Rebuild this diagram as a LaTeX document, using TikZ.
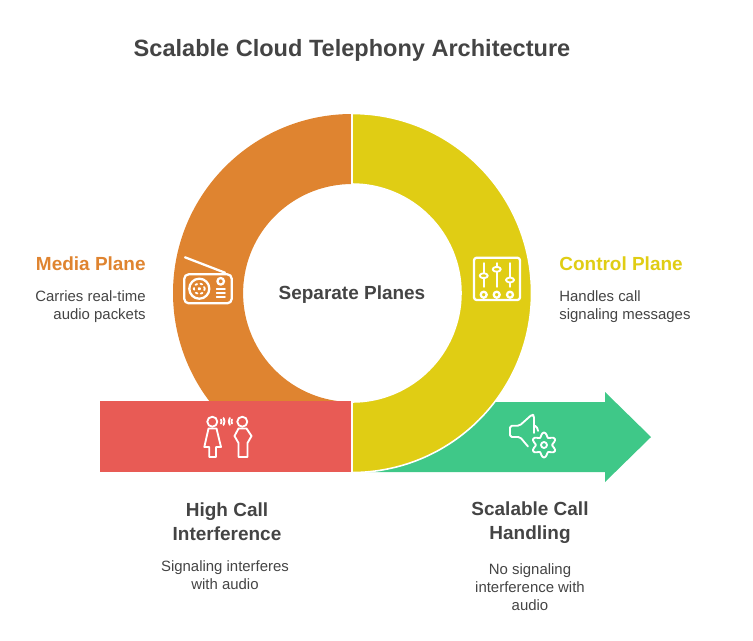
\documentclass[tikz,border=0pt]{standalone}
\usepackage{fontspec}
\setmainfont{Liberation Sans}
\definecolor{mediaorange}{HTML}{DF8430}
\definecolor{controlyellow}{HTML}{E0CD14}
\definecolor{callred}{HTML}{E85B55}
\definecolor{handlegreen}{HTML}{3FC888}
\definecolor{textgrey}{HTML}{444444}
\tikzset{
  icon/.style={draw=white,line width=1.3pt,line cap=round,line join=round},
  thinicon/.style={draw=white,line width=1.05pt,line cap=round,line join=round},
  titletext/.style={text=textgrey,font=\bfseries\fontsize{13.4}{16}\selectfont},
  headtext/.style={text=textgrey,align=center,font=\bfseries\fontsize{10.8}{13.6}\selectfont},
  desctext/.style={text=textgrey,font=\fontsize{8.5}{10.2}\selectfont},
}
\begin{document}
\begin{tikzpicture}[x=0.02cm,y=0.02cm]
\tikzstyle{every node}+=[inner sep=0pt]
\useasboundingbox (0,0) rectangle (753,-640);
% arrow under the ring
\fill [handlegreen] (360,-402) -- (605,-402) -- (605,-392) -- (651,-437) -- (605,-482) -- (605,-472) -- (360,-472) -- cycle;
% ring halves
\fill [mediaorange] (352,-114) arc (90:217.1:179) -- (337.3,-401) arc (262.2:90:109) -- cycle;
\draw [white,line width=0.9pt,fill=controlyellow] (352,-113.5) arc (90:-90:179.5) -- (352,-402) arc (-90:90:109) -- cycle;
\fill [callred] (100,-401) rectangle (351,-472);
\draw [white,line width=0.9pt] (352,-112) -- (352,-184) (352,-401) -- (352,-473);
% radio
\draw [icon,rounded corners=2.5] (184.3,-274.3) rectangle (231.7,-303.3);
\draw [icon] (185,-257.3) -- (225,-272.7);
\draw [icon] (199.3,-288.7) circle (10);
\draw [thinicon,dotted] (199.3,-288.7) circle (5.5);
\draw [thinicon] (199.3,-288.7) circle (0.8);
\draw [icon] (220.7,-281.3) circle (3.3);
\foreach \y in {-289.3,-293.3,-297.3}
  \draw [thinicon] (216.7,\y) -- (225,\y);
% mixer
\draw [icon,rounded corners=1.5] (474,-257.7) rectangle (520,-300);
\foreach \x/\y in {483.7/-275.7,496.7/-269.3,510/-280} {
  \draw [icon] (\x,-263.3) -- (\x,-286.7);
  \draw [thinicon,fill=controlyellow,rounded corners=1.5] (\x-4,\y-2.2) rectangle (\x+4,\y+2.2);
  \draw [icon] (\x,-294.7) circle (3);
}
% two people
\draw [thinicon] (212.3,-421.7) circle (5);
\draw [thinicon] (208.5,-428.5) -- (216.5,-428.5) -- (221,-447) -- (216,-447) -- (216,-457) -- (209.3,-457) -- (209.3,-447) -- (204.3,-447) -- cycle;
\draw [thinicon] (242.3,-421.7) circle (5);
\draw [thinicon] (238.5,-428.5) -- (246.5,-428.5) -- (251.5,-436) -- (247.5,-443) -- (247.5,-457) -- (238.5,-457) -- (238.5,-443) -- (234.5,-436) -- cycle;
\draw [thinicon] (221,-419.5) arc (30:-30:4);
\draw [thinicon] (223.5,-418) arc (35:-35:6);
\draw [thinicon] (232,-419.5) arc (150:210:4);
\draw [thinicon] (229.8,-418) arc (145:215:6);
% speaker and gear
\draw [thinicon,rounded corners=1] (528,-446.5) -- (520,-437) -- (510,-437) -- (510,-425.7) -- (519.5,-425.7) -- (532,-414.5) -- (534,-415.5) -- (534,-433);
\draw [thinicon] (535,-425.7) arc (60:0:6);
\draw [thinicon] plot [smooth cycle,samples=48,domain=0:352.5] ({544+(10.3+2.2*cos(6*\x))*cos(\x+90)},{-445+(10.3+2.2*cos(6*\x))*sin(\x+90)});
\draw [thinicon] (544,-445) circle (3);
% labels
\draw (352,-50) node (title) [titletext] {Scalable Cloud Telephony Architecture};
\draw (352,-295) node (centerlabel) [headtext] {Separate Planes};
\draw (146,-264) node (mediahead) [headtext,anchor=east,text=mediaorange] {Media Plane};
\draw (146,-307) node (mediadesc) [desctext,anchor=east,align=right] {Carries real-time\\audio packets};
\draw (559,-264) node (controlhead) [headtext,anchor=west,text=controlyellow] {Control Plane};
\draw (559,-307) node (controldesc) [desctext,anchor=west,align=left] {Handles call\\signaling messages};
\draw (227,-522) node (callhead) [headtext] {High Call\\Interference};
\draw (225,-575) node (calldesc) [desctext,align=center] {Signaling interferes\\with audio};
\draw (530,-523) node (handlehead) [headtext] {Scalable Call\\Handling};
\draw (530,-587) node (handledesc) [desctext,align=center] {No signaling\\interference with\\audio};
\end{tikzpicture}
\end{document}
